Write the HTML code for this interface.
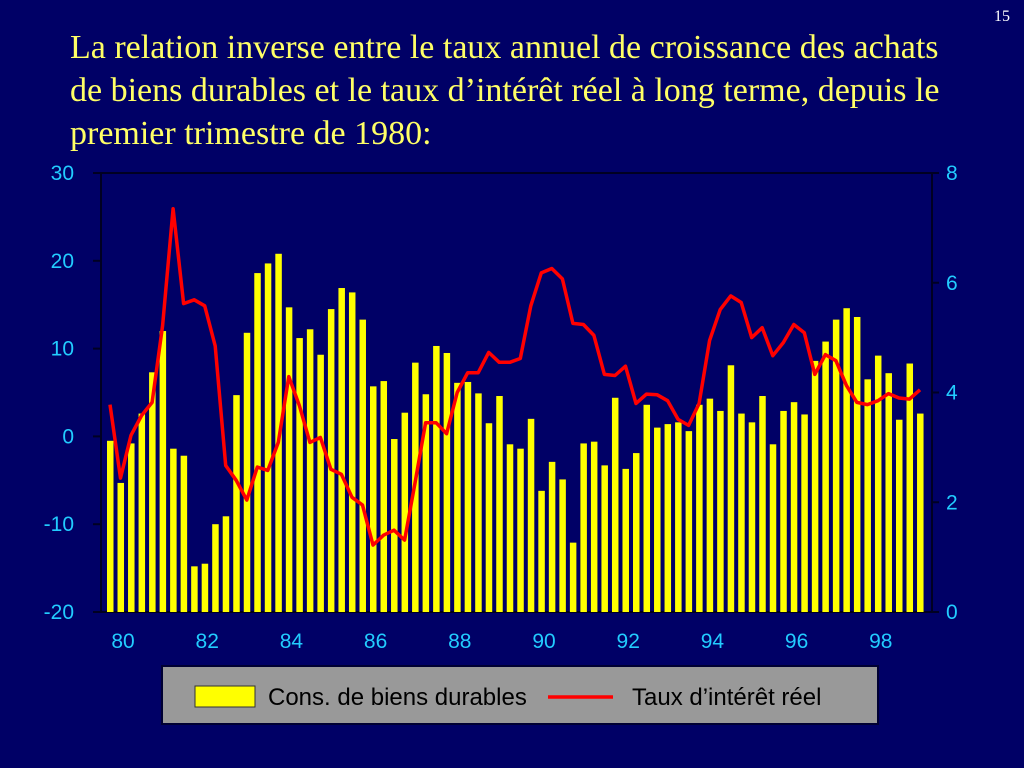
<!DOCTYPE html>
<html><head><meta charset="utf-8"><style>
body{margin:0;background:#000066;width:1024px;height:768px;overflow:hidden;position:relative;font-family:"Liberation Sans",sans-serif}
#title{position:absolute;left:70px;top:26px;white-space:nowrap;font-family:"Liberation Serif",serif;font-size:34px;line-height:43px;color:#ffff66;margin:0;font-weight:normal}
#pg{position:absolute;right:14px;top:8px;font-family:"Liberation Serif",serif;font-size:16px;color:#ffffff}
svg{position:absolute;left:0;top:0}
</style></head><body>
<h1 id="title">La relation inverse entre le taux annuel de croissance des achats<br>de biens durables et le taux d’intérêt réel à long terme, depuis le<br>premier trimestre de 1980:</h1>
<div id="pg">15</div>
<svg id="chart" width="1024" height="768"></svg>
<script>
const consValues=[-0.5,-5.3,-0.8,2.6,7.3,12,-1.4,-2.2,-14.8,-14.5,-10,-9.1,4.7,11.8,18.6,19.7,20.8,14.7,11.2,12.2,9.3,14.5,16.9,16.4,13.3,5.7,6.3,-0.3,2.7,8.4,4.8,10.3,9.5,6.1,6.2,4.9,1.5,4.6,-0.9,-1.4,2.0,-6.2,-2.9,-4.9,-12.1,-0.8,-0.6,-3.3,4.4,-3.7,-1.9,3.6,1.0,1.4,1.6,0.6,3.6,4.3,2.9,8.1,2.6,1.6,4.6,-0.9,2.9,3.9,2.5,8.6,10.8,13.3,14.6,13.6,6.5,9.2,7.2,1.9,8.3,2.6];
const rateValues=[3.78,2.44,3.22,3.58,3.82,5.22,7.35,5.62,5.69,5.58,4.85,2.67,2.40,2.04,2.64,2.58,3.09,4.29,3.76,3.09,3.18,2.60,2.51,2.09,1.95,1.22,1.40,1.49,1.31,2.36,3.45,3.45,3.25,4.0,4.36,4.36,4.73,4.55,4.55,4.62,5.58,6.18,6.26,6.07,5.26,5.24,5.04,4.33,4.31,4.48,3.80,3.97,3.96,3.85,3.51,3.40,3.80,4.95,5.51,5.76,5.64,5.0,5.18,4.67,4.91,5.24,5.09,4.33,4.69,4.58,4.13,3.82,3.78,3.85,3.98,3.90,3.88,4.05];
const leftTicks=[30,20,10,0,-10,-20];
const rightTicks=[8,6,4,2,0];
const yearLabels=["80","82","84","86","88","90","92","94","96","98"];
const NS="http://www.w3.org/2000/svg";
const svg=document.getElementById('chart');
const X0=101,X1=932,Y0=173,Y1=612;
const yL=v=>Y1-(v+20)/50*(Y1-Y0);
const yR=v=>Y1-v/8*(Y1-Y0);
const xQ=i=>110+i*10.52;
function mk(t,a){const e=document.createElementNS(NS,t);for(const k in a)e.setAttribute(k,a[k]);svg.appendChild(e);return e;}
const frame=mk('rect',{x:X0,y:Y0,width:X1-X0,height:Y1-Y0,fill:'#000066',stroke:'#000022','stroke-width':2});


consValues.forEach((v,i)=>{
  const b=mk('rect',{x:xQ(i)-3,y:yL(v),width:6.5,height:Y1-yL(v),fill:'#ffff00'});
  
  
});
const pts=rateValues.map((v,i)=>xQ(i).toFixed(1)+','+yR(v).toFixed(1)).join(' ');
const ln=mk('polyline',{points:pts,fill:'none',stroke:'#ff0000','stroke-width':3.5,'stroke-linejoin':'round'});


leftTicks.forEach(v=>{
  const y=yL(v);
  mk('line',{x1:93,x2:X0,y1:y,y2:y,stroke:'#000022','stroke-width':2});
  const t=mk('text',{x:74,y:y+7,'text-anchor':'end',fill:'#22ccff','font-size':21,'font-family':'Liberation Sans, sans-serif'});
  t.textContent=v;
  
  
});
rightTicks.forEach(v=>{
  const y=yR(v);
  mk('line',{x1:X1,x2:X1+7,y1:y,y2:y,stroke:'#000022','stroke-width':2});
  const t=mk('text',{x:946,y:y+7,fill:'#22ccff','font-size':21,'font-family':'Liberation Sans, sans-serif'});
  t.textContent=v;
  
  
});
yearLabels.forEach((s,k)=>{
  const t=mk('text',{x:123+k*42.1*2,y:648,'text-anchor':'middle',fill:'#22ccff','font-size':21,'font-family':'Liberation Sans, sans-serif'});
  t.textContent=s;
  
  
});
const lg=mk('rect',{x:162,y:666,width:716,height:58,fill:'#999999',stroke:'#000033','stroke-width':2});


const sw=mk('rect',{x:195,y:686,width:60,height:21,fill:'#ffff00',stroke:'#333','stroke-width':1});


const t1=mk('text',{x:268,y:705,fill:'#000','font-size':24,'font-family':'Liberation Sans, sans-serif'});
t1.textContent='Cons. de biens durables';


const sl=mk('line',{x1:548,x2:613,y1:697,y2:697,stroke:'#ff0000','stroke-width':3.5});


const t2=mk('text',{x:632,y:705,fill:'#000','font-size':24,'font-family':'Liberation Sans, sans-serif'});
t2.textContent='Taux d’intérêt réel';


</script>
</body></html>
